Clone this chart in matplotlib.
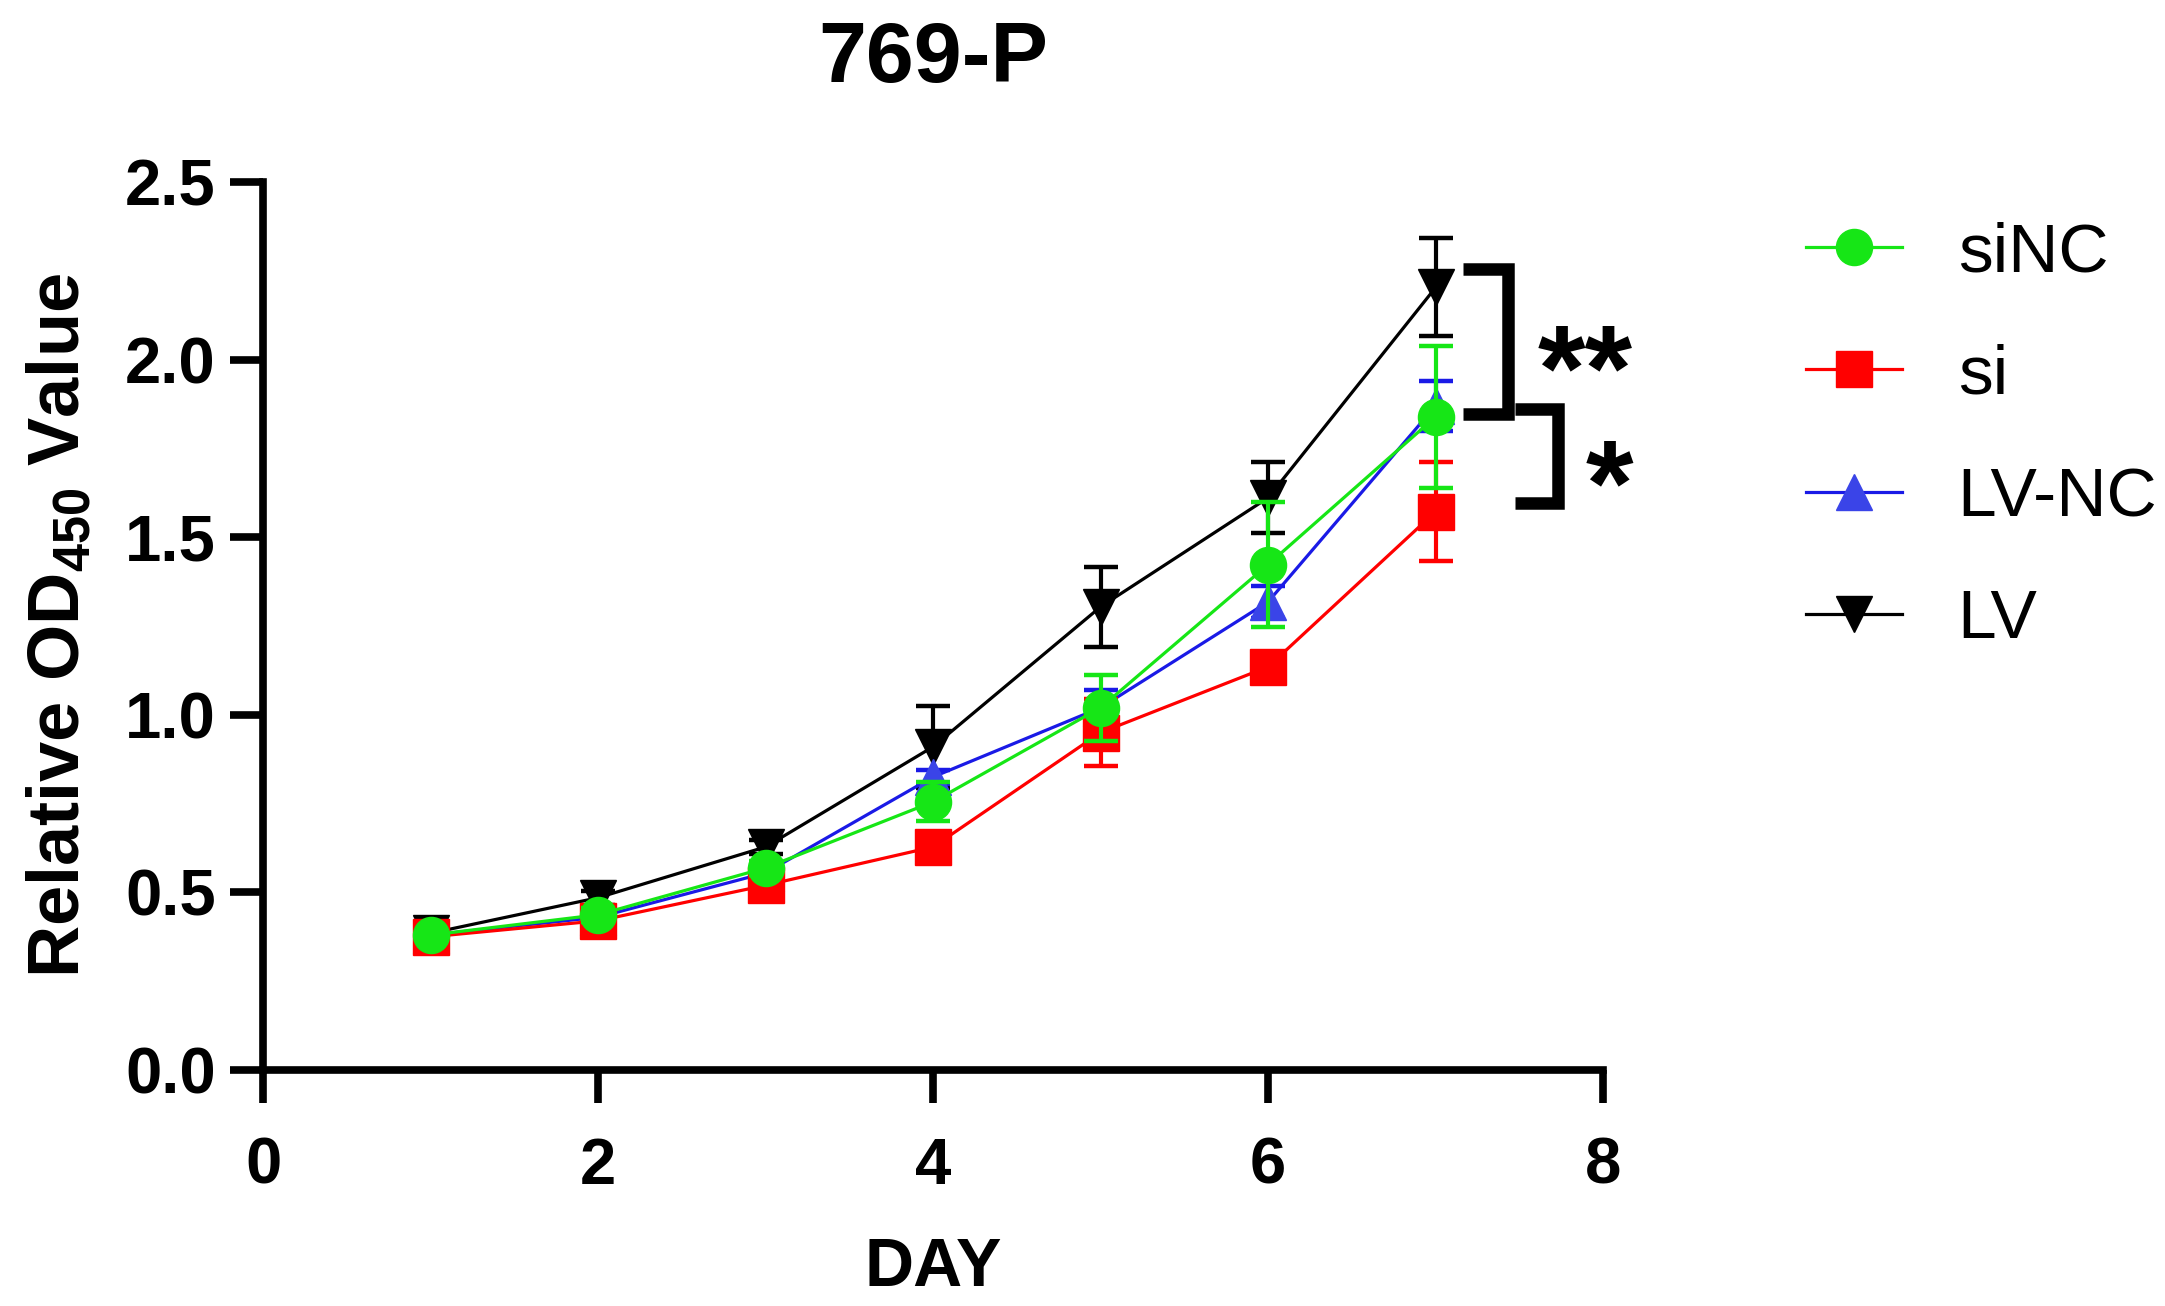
import matplotlib
matplotlib.use("Agg")
import matplotlib.pyplot as plt
from matplotlib.lines import Line2D

plt.rcParams['font.family'] = ['Liberation Sans', 'DejaVu Sans']
plt.rcParams['mathtext.default'] = 'regular'

days = [1, 2, 3, 4, 5, 6, 7]

sinc = [0.380, 0.437, 0.569, 0.755, 1.020, 1.423, 1.839]
sinc_err = [0.010, 0.020, 0.020, 0.055, 0.093, 0.177, 0.200]

si = [0.375, 0.420, 0.520, 0.628, 0.950, 1.135, 1.572]
si_err = [0.010, 0.020, 0.020, 0.020, 0.093, 0.030, 0.140]

lvnc = [0.380, 0.430, 0.555, 0.825, 1.020, 1.318, 1.870]
lvnc_err = [0.010, 0.010, 0.020, 0.020, 0.050, 0.045, 0.070]

lv = [0.385, 0.485, 0.628, 0.910, 1.304, 1.611, 2.203]
lv_err = [0.010, 0.020, 0.020, 0.115, 0.113, 0.100, 0.138]

labels = ['siNC', 'si', 'LV-NC', 'LV']
xticks = [0, 2, 4, 6, 8]
yticks = [0.0, 0.5, 1.0, 1.5, 2.0, 2.5]

fig = plt.figure(figsize=(21.65, 13.06), dpi=100)
ax = fig.add_axes([0.1215, 0.1807, 0.619, 0.680])

# (values, errors, colour, marker face, marker, zorder)
series = [
    (lv, lv_err, 'black', 'black', 'v', 3),
    (lvnc, lvnc_err, '#1a1ae6', '#3a44e8', '^', 4),
    (si, si_err, '#ff0000', '#ff0000', 's', 5),
    (sinc, sinc_err, '#16e616', '#16e616', 'o', 6),
]
handles = {}
for (vals, errs, col, face, mk, z), name in zip(series, ['LV', 'LV-NC', 'si', 'siNC']):
    ax.errorbar(days, vals, yerr=errs, color=col, lw=2.3, marker=mk,
                markersize=26, markerfacecolor=face, markeredgecolor=face,
                ecolor=col, elinewidth=3, capsize=12.5, capthick=3.2,
                zorder=z, clip_on=False)
    handles[name] = Line2D([], [], color=col, lw=2.3, marker=mk, markersize=26,
                           markerfacecolor=face, markeredgecolor=face)

ax.set_xlim(0, 8)
ax.set_ylim(0, 2.5)
ax.set_xticks(xticks)
ax.set_yticks(yticks)
ax.set_yticklabels([f'{v:.1f}' for v in yticks])
for s in ['top', 'right']:
    ax.spines[s].set_visible(False)
for s in ['left', 'bottom']:
    ax.spines[s].set_linewidth(5.5)
ax.tick_params(width=5.5, length=24, labelsize=47, pad=10)
for t in ax.get_xticklabels() + ax.get_yticklabels():
    t.set_fontweight('bold')
ax.xaxis.set_tick_params(pad=24)

ax.set_title('769-P', fontsize=62, fontweight='bold', pad=72)
ax.set_xlabel('DAY', fontsize=49, fontweight='bold', labelpad=28)
ax.set_ylabel(r'Relative OD$_{450}$ Value', fontsize=52, fontweight='bold', labelpad=22)

# significance brackets
ax.plot([7.164, 7.43, 7.43, 7.164], [2.256, 2.256, 1.848, 1.848], color='black',
        lw=9, solid_joinstyle='miter', solid_capstyle='butt', clip_on=False, zorder=7)
ax.plot([7.475, 7.73, 7.73, 7.475], [1.86, 1.86, 1.597, 1.597], color='black',
        lw=9, solid_joinstyle='miter', solid_capstyle='butt', clip_on=False, zorder=7)
ax.text(7.89, 1.95, '**', fontsize=88, fontweight='bold', ha='center', va='center')
ax.text(8.04, 1.625, '*', fontsize=88, fontweight='bold', ha='center', va='center',
        clip_on=False)

fig.legend([handles[n] for n in labels], labels, loc='upper left',
           bbox_to_anchor=(0.834, 0.8305), frameon=False, fontsize=50,
           handlelength=1.39, handletextpad=0.8, labelspacing=0.84,
           borderpad=0, borderaxespad=0)

fig.savefig('out.png', dpi=100)
